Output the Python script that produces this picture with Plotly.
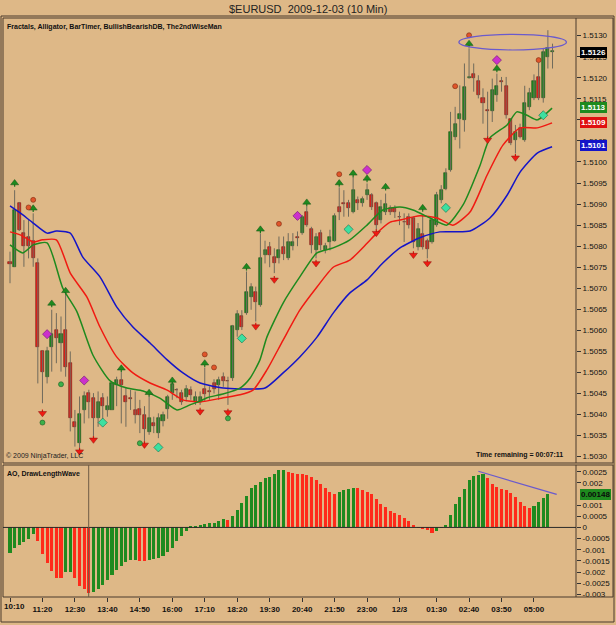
import plotly.graph_objects as go

# ---------------- DATA ----------------
opens = [1.50762,1.50751,1.50902,1.50832,1.50823,1.50812,1.50760,1.50550,1.50490,1.50561,
         1.50601,1.50571,1.50601,1.50522,1.50382,1.50333,1.50411,1.50451,1.50440,1.50391,
         1.50440,1.50411,1.50411,1.50470,1.50481,1.50443,1.50440,1.50411,1.50413,1.50400,
         1.50358,1.50381,1.50356,1.50384,1.50413,1.50451,1.50459,1.50452,1.50441,1.50459,
         1.50429,1.50431,1.50461,1.50455,1.50474,1.50470,1.50490,1.50480,1.50486,1.50601,
         1.50633,1.50641,1.50680,1.50692,1.50660,1.50779,1.50799,1.50774,1.50771,1.50799,
         1.50771,1.50800,1.50821,1.50831,1.50882,1.50840,1.50790,1.50832,1.50790,1.50811,
         1.50813,1.50892,1.50902,1.50902,1.50882,1.50910,1.50902,1.50922,1.50922,1.50902,
         1.50862,1.50882,1.50891,1.50891,1.50870,1.50858,1.50870,1.50866,1.50798,1.50830,
         1.50812,1.50810,1.50850,1.50909,1.50937,1.50981,1.51060,1.51102,1.51099,1.51200,
         1.51210,1.51192,1.51151,1.51123,1.51121,1.51159,1.51192,1.51180,1.51101,1.51052,
         1.51080,1.51052,1.51131,1.51151,1.51202,1.51151,1.51250,1.51262]
highs = [1.50787,1.50933,1.50905,1.50862,1.50862,1.50878,1.50771,1.50552,1.50561,1.50649,
         1.50641,1.50633,1.50688,1.50550,1.50411,1.50443,1.50455,1.50459,1.50451,1.50455,
         1.50451,1.50443,1.50474,1.50490,1.50502,1.50463,1.50459,1.50455,1.50435,1.50420,
         1.50445,1.50395,1.50403,1.50407,1.50447,1.50476,1.50463,1.50459,1.50470,1.50467,
         1.50455,1.50455,1.50512,1.50467,1.50484,1.50490,1.50500,1.50490,1.50613,1.50648,
         1.50648,1.50740,1.50712,1.50704,1.50830,1.50813,1.50810,1.50795,1.50823,1.50823,
         1.50831,1.50831,1.50835,1.50874,1.50895,1.50846,1.50831,1.50839,1.50808,1.50839,
         1.50878,1.50940,1.50933,1.50910,1.50965,1.50918,1.50918,1.50949,1.50926,1.50906,
         1.50910,1.50925,1.50897,1.50897,1.50882,1.50878,1.50878,1.50870,1.50855,1.50876,
         1.50818,1.50866,1.50929,1.50945,1.50985,1.51119,1.51131,1.51182,1.51234,1.51270,
         1.51234,1.51206,1.51175,1.51167,1.51198,1.51210,1.51202,1.51202,1.51103,1.51088,
         1.51091,1.51181,1.51176,1.51208,1.51236,1.51270,1.51313,1.51281]
lows = [1.50712,1.50751,1.50836,1.50751,1.50771,1.50751,1.50474,1.50427,1.50474,1.50502,
        1.50522,1.50502,1.50490,1.50360,1.50324,1.50320,1.50379,1.50391,1.50348,1.50371,
        1.50389,1.50395,1.50411,1.50420,1.50379,1.50371,1.50411,1.50379,1.50356,1.50336,
        1.50352,1.50356,1.50344,1.50372,1.50390,1.50435,1.50439,1.50423,1.50431,1.50435,
        1.50423,1.50423,1.50431,1.50435,1.50450,1.50435,1.50466,1.50423,1.50480,1.50585,
        1.50601,1.50637,1.50649,1.50621,1.50656,1.50759,1.50750,1.50736,1.50759,1.50767,
        1.50767,1.50790,1.50800,1.50827,1.50846,1.50783,1.50771,1.50790,1.50783,1.50790,
        1.50811,1.50862,1.50870,1.50870,1.50878,1.50886,1.50894,1.50910,1.50886,1.50839,
        1.50854,1.50874,1.50874,1.50867,1.50850,1.50810,1.50842,1.50795,1.50790,1.50792,
        1.50771,1.50806,1.50846,1.50902,1.50933,1.50977,1.51052,1.51032,1.51072,1.51198,
        1.51167,1.51151,1.51091,1.51060,1.51095,1.51143,1.51167,1.51103,1.51040,1.51020,
        1.51056,1.51048,1.51123,1.51147,1.51147,1.51141,1.51222,1.51222]
closes = [1.50758,1.50886,1.50839,1.50800,1.50800,1.50771,1.50561,1.50500,1.50550,1.50591,
          1.50581,1.50591,1.50514,1.50391,1.50370,1.50401,1.50443,1.50431,1.50391,1.50431,
          1.50421,1.50421,1.50474,1.50481,1.50470,1.50431,1.50438,1.50399,1.50399,1.50365,
          1.50391,1.50372,1.50391,1.50399,1.50441,1.50473,1.50458,1.50431,1.50460,1.50447,
          1.50441,1.50441,1.50449,1.50453,1.50461,1.50482,1.50479,1.50479,1.50610,1.50640,
          1.50609,1.50692,1.50704,1.50668,1.50771,1.50790,1.50779,1.50761,1.50790,1.50781,
          1.50810,1.50810,1.50820,1.50870,1.50850,1.50803,1.50823,1.50803,1.50800,1.50823,
          1.50872,1.50882,1.50901,1.50890,1.50933,1.50902,1.50911,1.50933,1.50892,1.50850,
          1.50894,1.50901,1.50882,1.50882,1.50869,1.50857,1.50850,1.50810,1.50842,1.50798,
          1.50793,1.50862,1.50921,1.50933,1.50973,1.51072,1.51091,1.51113,1.51179,1.51202,
          1.51200,1.51159,1.51139,1.51121,1.51171,1.51180,1.51191,1.51111,1.51044,1.51072,
          1.51060,1.51141,1.51163,1.51192,1.51151,1.51262,1.51271,1.51262]

ao = [-0.00115,-0.00093,-0.00078,-0.00067,-0.00052,-0.00031,-0.00061,-0.00120,-0.00161,-0.00196,
      -0.00226,-0.00227,-0.00202,-0.00201,-0.00229,-0.00262,-0.00277,-0.00294,-0.00291,-0.00277,
      -0.00256,-0.00235,-0.00212,-0.00190,-0.00172,-0.00157,-0.00148,-0.00145,-0.00150,-0.00152,
      -0.00146,-0.00142,-0.00135,-0.00127,-0.00112,-0.00094,-0.00063,-0.00037,-0.00015,0.00003,
      0.00005,0.00009,0.00015,0.00018,0.00022,0.00030,0.00037,0.00034,0.00052,0.00079,
      0.00108,0.00140,0.00175,0.00190,0.00202,0.00220,0.00227,0.00239,0.00256,0.00257,
      0.00250,0.00242,0.00239,0.00238,0.00237,0.00227,0.00214,0.00197,0.00178,0.00157,
      0.00152,0.00160,0.00166,0.00172,0.00179,0.00178,0.00166,0.00158,0.00148,0.00126,
      0.00103,0.00091,0.00072,0.00063,0.00055,0.00042,0.00028,0.00013,0.00001,-0.00007,
      -0.00013,-0.00025,-0.00018,-0.00002,0.00013,0.00055,0.00103,0.00136,0.00172,0.00214,
      0.00229,0.00235,0.00240,0.00220,0.00193,0.00182,0.00172,0.00166,0.00155,0.00135,
      0.00112,0.00094,0.00085,0.00096,0.00112,0.00132,0.00148]

jaw_bar = [0,2.2,5,8,10,13,15.7,19.4,23,26.5,30.2,33.9,37.3,41,46,49.6,55,58.9,62.5,66.2,69.7,73.3,77,80.4,84.1,88.4,92.7,99.2,103.5,107.2,110,113.7,116.9]
jaw_px = [1.50896,1.50879,1.50855,1.50831,1.50836,1.50831,1.50774,1.50727,1.50656,1.50608,1.50570,1.50530,1.50499,1.50475,1.50463,1.50461,1.50463,1.50499,1.50537,1.50584,1.50641,1.50689,1.50720,1.50760,1.50796,1.50820,1.50834,1.50836,1.50867,1.50921,1.50976,1.51021,1.51036]
teeth_bar = [0,2.2,5,7,10,13,16.6,19.4,23,26.5,30.2,33.9,37.3,41,46,49.6,52.4,55.4,58.9,62.5,66.2,69.7,73.3,77,79.1,82,84.1,88.4,92.1,95.5,99.2,102.9,106.3,110,113.7,116.9]
teeth_px = [1.50834,1.50827,1.50810,1.50815,1.50815,1.50736,1.50679,1.50608,1.50537,1.50499,1.50475,1.50458,1.50435,1.50430,1.50440,1.50447,1.50458,1.50506,1.50577,1.50648,1.50703,1.50750,1.50767,1.50807,1.50831,1.50857,1.50862,1.50872,1.50867,1.50850,1.50881,1.50969,1.51040,1.51081,1.51081,1.51093]
lips_bar = [0,2.8,5,8,11.4,14.4,17.9,21.6,25.2,28.7,32.3,36,38.8,41,42.5,45.9,49.6,51.8,53.9,55.4,58.9,62.5,66.2,69.7,73.3,77,80.4,84.1,86.9,90.6,94.2,97.7,101.4,103.5,107.2,109.3,111.5,113.7,116.9]
lips_px = [1.50803,1.50784,1.50803,1.50808,1.50700,1.50645,1.50541,1.50480,1.50463,1.50456,1.50439,1.50411,1.50423,1.50432,1.50440,1.50449,1.50463,1.50487,1.50530,1.50584,1.50665,1.50727,1.50784,1.50796,1.50815,1.50850,1.50886,1.50893,1.50886,1.50867,1.50850,1.50898,1.50993,1.51057,1.51088,1.51119,1.51111,1.51100,1.51128]

up_frac_bar = [1,5,9,12,24,30,35,42,51,54,64,71,74,77,81,89,99,105]
up_frac_px = [1.50950,1.50890,1.50664,1.50694,1.50510,1.50452,1.50481,1.50522,1.50751,1.50840,1.50904,1.50950,1.50973,1.50961,1.50941,1.50891,1.51281,1.51222]
dn_frac_bar = [7,15,18,29,41,47,53,57,66,79,87,90,103,109]
dn_frac_px = [1.50403,1.50312,1.50340,1.50328,1.50407,1.50405,1.50609,1.50720,1.50759,1.50831,1.50779,1.50759,1.51052,1.51010]
orange_dot_bar = [4,5,42,44,58,71,96,99,114]
orange_dot_px = [1.50892,1.50910,1.50543,1.50512,1.50853,1.50971,1.51180,1.51301,1.51242]
green_dot_bar = [7,11,28,47]
green_dot_px = [1.50381,1.50472,1.50332,1.50391]
magenta_dia_bar = [8,16,62,77,105]
magenta_dia_px = [1.50591,1.50481,1.50872,1.50981,1.51242]
teal_dia_bar = [20,32,50,73,94,115]
teal_dia_px = [1.50381,1.50322,1.50581,1.50840,1.50891,1.51111]

tick_bars = [0,7,14,21,28,35,42,49,56,63,70,77,84,92,99,106,113]
tick_labels = ["10:10","11:20","12:30","13:40","14:50","16:00","17:10","18:20","19:30",
               "20:40","21:50","23:00","12/3","01:30","02:40","03:50","05:00"]
price_ticks = [1.5030,1.5035,1.5040,1.5045,1.5050,1.5055,1.5060,1.5065,1.5070,1.5075,
               1.5080,1.5085,1.5090,1.5095,1.5100,1.5105,1.5110,1.5115,1.5120,1.5125,1.5130]
ao_ticks = [0.0025,0.002,0.001,0.0005,0,-0.0005,-0.001,-0.0015,-0.002,-0.0025,-0.003]
ao_tick_labels = ["0.0025","0.002","0.001","0.0005","0","-0.0005","-0.001","-0.0015","-0.002","-0.0025","-0.003"]

# ---------------- STYLE ----------------
BG = "#DEB887"
GREEN = "#1F8A1F"
RED = "#E8211B"
FRAME = "#4a3b2c"
FONT = "Liberation Sans, Arial"
W, H = 616, 625
L_PX, R_PX, T_PX, B_PX = 3, 576, 18, 597
BAR_PX = 4.637

def px(x):
    return (x - L_PX) / (R_PX - L_PX)

def py(y):
    return (B_PX - y) / (B_PX - T_PX)

n = len(opens)
bars = list(range(n))
up = [i for i in bars if closes[i] >= opens[i]]
dn = [i for i in bars if closes[i] < opens[i]]
MINB = 0.000012
STEM = 0.00009

fig = go.Figure()

# wicks
wx, wy = [], []
for i in bars:
    wx += [i, i, None]
    wy += [lows[i], highs[i], None]
fig.add_trace(go.Scatter(x=wx, y=wy, mode="lines", line=dict(color="#6f6a5c", width=1),
                         hoverinfo="skip", xaxis="x", yaxis="y"))

for idx, col, lcol in [(up, GREEN, "#1a4d1a"), (dn, RED, "#6b1a14")]:
    fig.add_trace(go.Bar(
        x=idx,
        base=[min(opens[i], closes[i]) for i in idx],
        y=[max(abs(closes[i] - opens[i]), MINB) for i in idx],
        width=0.66, marker=dict(color=col, line=dict(color=lcol, width=0.6)),
        xaxis="x", yaxis="y", hoverinfo="skip"))

# alligator
for xs, ys, col in [(jaw_bar, jaw_px, "#1414C8"), (teeth_bar, teeth_px, "#F01A12"), (lips_bar, lips_px, "#1E8A1E")]:
    fig.add_trace(go.Scatter(x=xs, y=ys, mode="lines", line=dict(color=col, width=1.5, shape="spline", smoothing=0.6),
                             xaxis="x", yaxis="y", hoverinfo="skip"))

# fractal arrows: stem + head
sx, sy = [], []
for b, p in zip(up_frac_bar, up_frac_px):
    sx += [b, b, None]
    sy += [p - STEM, p, None]
fig.add_trace(go.Scatter(x=sx, y=sy, mode="lines", line=dict(color="#1E7A1E", width=1.2), xaxis="x", yaxis="y", hoverinfo="skip"))
sx, sy = [], []
for b, p in zip(dn_frac_bar, dn_frac_px):
    sx += [b, b, None]
    sy += [p + STEM, p, None]
fig.add_trace(go.Scatter(x=sx, y=sy, mode="lines", line=dict(color="#D01A12", width=1.2), xaxis="x", yaxis="y", hoverinfo="skip"))
fig.add_trace(go.Scatter(x=up_frac_bar, y=up_frac_px, mode="markers",
                         marker=dict(symbol="triangle-up", size=7, color="#1E8A1E", line=dict(color="#145214", width=0.5)),
                         xaxis="x", yaxis="y"))
fig.add_trace(go.Scatter(x=dn_frac_bar, y=dn_frac_px, mode="markers",
                         marker=dict(symbol="triangle-down", size=7, color="#F01A12", line=dict(color="#8a120c", width=0.5)),
                         xaxis="x", yaxis="y"))
fig.add_trace(go.Scatter(x=orange_dot_bar, y=orange_dot_px, mode="markers",
                         marker=dict(symbol="circle", size=5, color="#E0552A", line=dict(color="#7a2a10", width=0.6)),
                         xaxis="x", yaxis="y"))
fig.add_trace(go.Scatter(x=green_dot_bar, y=green_dot_px, mode="markers",
                         marker=dict(symbol="circle", size=5, color="#3CB04A", line=dict(color="#1d5a22", width=0.6)),
                         xaxis="x", yaxis="y"))
fig.add_trace(go.Scatter(x=magenta_dia_bar, y=magenta_dia_px, mode="markers",
                         marker=dict(symbol="diamond", size=7, color="#CC30CC", line=dict(color="#6a186a", width=0.6)),
                         xaxis="x", yaxis="y"))
fig.add_trace(go.Scatter(x=teal_dia_bar, y=teal_dia_px, mode="markers",
                         marker=dict(symbol="diamond", size=7, color="#3CE0A0", line=dict(color="#1a6a4a", width=0.6)),
                         xaxis="x", yaxis="y"))

# AO
ao_cols = []
for i, v in enumerate(ao):
    ao_cols.append(GREEN if i == 0 or v >= ao[i - 1] else "#FF2A1A")
fig.add_trace(go.Bar(x=list(range(len(ao))), y=ao, width=0.66, marker=dict(color=ao_cols, line=dict(width=0)),
                     xaxis="x2", yaxis="y2", hoverinfo="skip"))

xr = [(L_PX - 10) / BAR_PX, (R_PX - 10) / BAR_PX]
price_dom = [py(463), 1]
ao_dom = [0, py(465)]

fig.update_layout(
    width=W, height=H, showlegend=False, barmode="overlay", bargap=0,
    paper_bgcolor=BG, plot_bgcolor=BG,
    margin=dict(l=L_PX, r=W - R_PX, t=T_PX, b=H - B_PX, pad=0),
    font=dict(family=FONT, color="#111"),
    xaxis=dict(domain=[0, 1], range=xr, anchor="y", showticklabels=False, showgrid=False, zeroline=False, ticks=""),
    xaxis2=dict(domain=[0, 1], range=xr, anchor="y2", matches="x", showgrid=False, zeroline=False,
                tickvals=tick_bars, ticktext=[""] + tick_labels[1:], ticks="outside", ticklen=4, tickcolor="#333",
                tickfont=dict(size=8, family=FONT, weight="bold", color="#111")),
    yaxis=dict(domain=price_dom, range=[1.50285, 1.51342], side="right", anchor="x", showgrid=False, zeroline=False,
               tickvals=price_ticks, ticktext=[f"{v:.4f}" for v in price_ticks], ticks="outside", ticklen=4,
               tickcolor="#333", tickfont=dict(size=8, color="#111")),
    yaxis2=dict(domain=ao_dom, range=[-0.00312, 0.0028], side="right", anchor="x2", showgrid=False, zeroline=False,
                tickvals=ao_ticks, ticktext=ao_tick_labels, ticks="outside", ticklen=4, tickcolor="#333",
                tickfont=dict(size=8, color="#111")),
)

shapes = [
    dict(type="rect", xref="paper", yref="paper", x0=0, x1=px(613), y0=price_dom[0], y1=1, line=dict(color=FRAME, width=1)),
    dict(type="line", xref="paper", yref="paper", x0=1, x1=1, y0=price_dom[0], y1=1, line=dict(color=FRAME, width=1)),
    dict(type="rect", xref="paper", yref="paper", x0=0, x1=px(613), y0=0, y1=ao_dom[1], line=dict(color=FRAME, width=1)),
    dict(type="line", xref="paper", yref="paper", x0=1, x1=1, y0=0, y1=ao_dom[1], line=dict(color=FRAME, width=1)),
    dict(type="rect", xref="paper", yref="paper", x0=px(1), x1=px(614), y0=py(622), y1=py(16), line=dict(color=FRAME, width=1)),
    dict(type="circle", xref="x", yref="y", x0=96.8, x1=120.0, y0=1.51266, y1=1.51303, line=dict(color="#6A5ACD", width=1.2)),
    dict(type="line", xref="paper", yref="y2", x0=0, x1=1, y0=0, y1=0, line=dict(color="#2a2a2a", width=1)),
    dict(type="line", xref="x2", yref="paper", x0=16.97, x1=16.97, y0=0, y1=ao_dom[1], line=dict(color="#6e5a46", width=1)),
    dict(type="line", xref="x2", yref="y2", x0=101, x1=117.9, y0=0.00252, y1=0.00148, line=dict(color="#6A5ACD", width=1.2)),
]
fig.update_layout(shapes=shapes)

ann = [
    dict(text="$EURUSD  2009-12-03 (10 Min)", x=px(308), y=py(9), xref="paper", yref="paper",
         showarrow=False, font=dict(size=11, color="#222"), xanchor="center", yanchor="middle"),
    dict(text="<b>Fractals, Alligator, BarTimer, BullishBearishDB, The2ndWiseMan</b>", x=px(5), y=py(27),
         xref="paper", yref="paper", showarrow=False, font=dict(size=7, color="#111"),
         xanchor="left", yanchor="middle"),
    dict(text="<b>AO, DrawLengthWave</b>", x=px(5), y=py(474), xref="paper", yref="paper", showarrow=False,
         font=dict(size=7, color="#111"), xanchor="left", yanchor="middle"),
    dict(text="© 2009 NinjaTrader, LLC", x=px(4), y=py(456), xref="paper", yref="paper", showarrow=False,
         font=dict(size=7, color="#222"), xanchor="left", yanchor="middle"),
    dict(text="<b>Time remaining = 00:07:11</b>", x=px(565), y=py(455), xref="paper", yref="paper", showarrow=False,
         font=dict(size=7, color="#111"), xanchor="right", yanchor="middle"),
    dict(text="<b>" + tick_labels[0] + "</b>", x=px(2), y=py(606), xref="paper", yref="paper", showarrow=False,
         font=dict(size=8, color="#111"), xanchor="left", yanchor="middle"),
]
for txt, yv, bg, fg, yr in [("1.5126", 1.51260, "#000000", "#ffffff", "y"),
                            ("1.5113", 1.51130, "#1E8A1E", "#ffffff", "y"),
                            ("1.5109", 1.51094, "#E01010", "#ffffff", "y"),
                            ("1.5101", 1.51039, "#1414C8", "#ffffff", "y"),
                            ("0.00148", 0.00148, "#1E8A1E", "#0a0a0a", "y2")]:
    ann.append(dict(text=f"<b>{txt}</b>", x=px(580), y=yv, xref="paper", yref=yr, showarrow=False,
                    font=dict(size=8, color=fg), bgcolor=bg, bordercolor=bg, borderpad=0,
                    xanchor="left", yanchor="middle"))
fig.update_layout(annotations=ann)

fig.write_html("out.html")
